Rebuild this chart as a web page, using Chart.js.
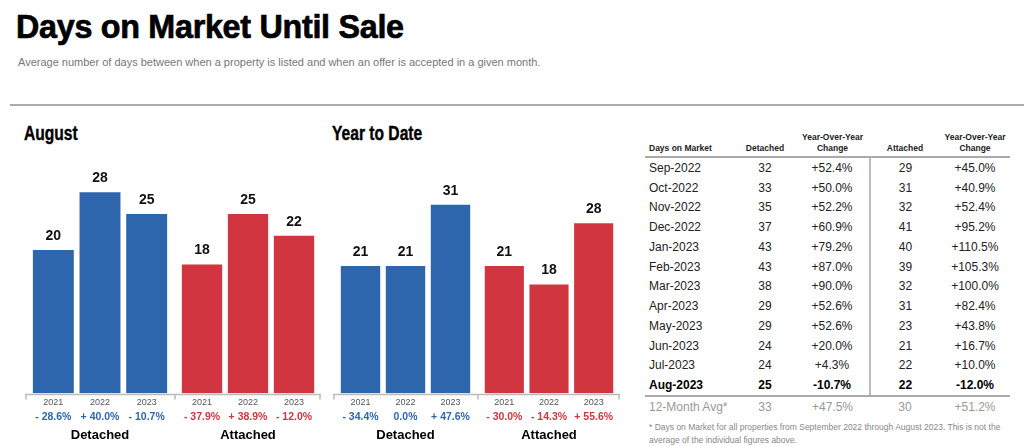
<!DOCTYPE html>
<html>
<head>
<meta charset="utf-8">
<script src="https://cdn.jsdelivr.net/npm/chart.js@4.4.0/dist/chart.umd.min.js"></script>
<style>
  body { margin: 0; width: 1024px; height: 446px; background: #fff; position: relative; overflow: hidden;
         font-family: "Liberation Sans", Arial, sans-serif; color: #111; }
  .narrow { font-family: "Liberation Sans", Arial, sans-serif; font-weight: bold; transform-origin: 0 0; white-space: nowrap; }
  h1 { position: absolute; left: 16px; top: 7px; margin: 0; font-size: 34px; color: #000; transform: scaleX(0.95);
       letter-spacing: -0.3px; -webkit-text-stroke: 0.7px #000; }
  .sub { position: absolute; left: 18px; top: 56px; font-size: 11px; color: #777; }
  .rule { position: absolute; left: 10px; right: 0; top: 104px; height: 2px; background: #aaa; }
  .ptitle { position: absolute; top: 122px; font-size: 19.5px; color: #000; transform: scaleX(0.8); -webkit-text-stroke: 0.4px #000; }
  .box { position: absolute; top: 153px; height: 292px; }
  #tbl { position: absolute; left: 645px; top: 131px; width: 365px; border-collapse: collapse; table-layout: fixed; font-size: 12px; }
  #tbl th { font-size: 8.5px; font-weight: bold; color: #222; text-align: center; vertical-align: bottom; height: 23px; padding: 0 0 2px 0;
            border-bottom: 2px solid #aaa; line-height: 11px; }
  #tbl th:first-child { text-align: left; padding-left: 4px; }
  #tbl td { height: 19.75px; padding: 0; text-align: center; color: #222; }
  #tbl td:first-child { text-align: left; padding-left: 4px; }
  #tbl .sep { border-left: 2px solid #bbb; }
  #tbl tr.last td { font-weight: bold; color: #000; border-bottom: 2px solid #aaa; }
  #tbl tr.avg td { color: #999; height: 20px; }
  #tbl tr.avg .sep { border-left: none; }
  .note { position: absolute; left: 649px; top: 421px; width: 362px; font-size: 8.5px; line-height: 12.5px; color: #888; }
</style>
</head>
<body>
<h1 class="narrow">Days on Market Until Sale</h1>
<div class="sub">Average number of days between when a property is listed and when an offer is accepted in a given month.</div>
<div class="rule"></div>

<div class="ptitle narrow" style="left:24px">August</div>
<div class="ptitle narrow" style="left:332px">Year to Date</div>

<div class="box" style="left:25px;width:149px"><canvas id="augDet"></canvas></div>
<div class="box" style="left:174px;width:147px"><canvas id="augAtt"></canvas></div>
<div class="box" style="left:333px;width:144px"><canvas id="ytdDet"></canvas></div>
<div class="box" style="left:477px;width:143px"><canvas id="ytdAtt"></canvas></div>

<table id="tbl">
  <colgroup><col style="width:90px"><col style="width:60px"><col style="width:75px"><col style="width:70px"><col style="width:70px"></colgroup>
  <thead><tr><th>Days on Market</th><th>Detached</th><th>Year-Over-Year<br>Change</th><th>Attached</th><th>Year-Over-Year<br>Change</th></tr></thead>
  <tbody id="tbody"></tbody>
</table>
<div class="note">* Days on Market for all properties from September 2022 through August 2023. This is not the average of the individual figures above.</div>

<script>
// bar charts
const years = ['2021', '2022', '2023'];
const augDetached = [20, 28, 25];
const augAttached = [18, 25, 22];
const ytdDetached = [21, 21, 31];
const ytdAttached = [21, 18, 28];
const augDetachedChg = [-28.6, 40.0, -10.7];
const augAttachedChg = [-37.9, 38.9, -12.0];
const ytdDetachedChg = [-34.4, 0.0, 47.6];
const ytdAttachedChg = [-30.0, -14.3, 55.6];

// monthly table
const months = ['Sep-2022', 'Oct-2022', 'Nov-2022', 'Dec-2022', 'Jan-2023', 'Feb-2023', 'Mar-2023',
                'Apr-2023', 'May-2023', 'Jun-2023', 'Jul-2023', 'Aug-2023'];
const monthDetached = [32, 33, 35, 37, 43, 43, 38, 29, 29, 24, 24, 25];
const monthDetachedChg = [52.4, 50.0, 52.2, 60.9, 79.2, 87.0, 90.0, 52.6, 52.6, 20.0, 4.3, -10.7];
const monthAttached = [29, 31, 32, 41, 40, 39, 32, 31, 23, 21, 22, 22];
const monthAttachedChg = [45.0, 40.9, 52.4, 95.2, 110.5, 105.3, 100.0, 82.4, 43.8, 16.7, 10.0, -12.0];
const avgRow = ['12-Month Avg*', 33, 47.5, 30, 51.2];

const BLUE = '#2e66ae';
const RED = '#d1353f';

function pct(v, spaced) {
  const s = spaced ? ' ' : '';
  if (v > 0) return '+' + s + v.toFixed(1) + '%';
  if (v < 0) return '-' + s + Math.abs(v).toFixed(1) + '%';
  return v.toFixed(1) + '%';
}

// value labels over the bars, change under the years, and the base line
const barExtras = {
  id: 'barExtras',
  afterDatasetsDraw(chart, args, opts) {
    const ctx = chart.ctx;
    const area = chart.chartArea;
    const xs = chart.scales.x;
    ctx.save();
    ctx.textAlign = 'center';
    ctx.font = 'bold 14px "Liberation Sans", Arial';
    ctx.fillStyle = '#111';
    ctx.textBaseline = 'bottom';
    chart.getDatasetMeta(0).data.forEach((bar, i) => {
      ctx.fillText(chart.data.datasets[0].data[i], bar.x, bar.y - 6);
    });
    ctx.font = 'bold 10.5px "Liberation Sans", Arial';
    ctx.fillStyle = opts.color;
    ctx.textBaseline = 'middle';
    opts.changes.forEach((c, i) => {
      ctx.fillText(pct(c, true), xs.getPixelForValue(i), area.bottom + 24);
    });
    ctx.strokeStyle = '#bbb';
    ctx.lineWidth = 1.5;
    ctx.beginPath();
    ctx.moveTo(0, area.bottom + 1);
    ctx.lineTo(chart.width, area.bottom + 1);
    if (opts.leftTick) { ctx.moveTo(1, area.bottom + 1); ctx.lineTo(1, area.bottom + 6); }
    if (opts.rightTick) { ctx.moveTo(chart.width - 1, area.bottom + 1); ctx.lineTo(chart.width - 1, area.bottom + 6); }
    ctx.stroke();
    ctx.restore();
  }
};

function makeChart(id, values, changes, color, group, yMax, rightTick) {
  new Chart(document.getElementById(id), {
    type: 'bar',
    data: {
      labels: years,
      datasets: [{
        data: values,
        backgroundColor: color,
        borderColor: 'rgba(255,255,255,0.35)',
        borderWidth: 1,
        categoryPercentage: 1,
        barPercentage: 0.92
      }]
    },
    options: {
      responsive: true,
      maintainAspectRatio: false,
      animation: false,
      layout: { padding: { top: 0, bottom: 2, left: 5, right: 4 } },
      scales: {
        x: {
          grid: { display: false, drawTicks: false },
          border: { display: false },
          ticks: { color: '#555', font: { size: 9, family: '"Liberation Sans", Arial' }, padding: 4 },
          title: { display: true, text: group, color: '#000', font: { size: 13, weight: 'bold', family: '"Liberation Sans", Arial' }, padding: { top: 15, bottom: 0 } }
        },
        y: { display: false, min: 0, max: yMax }
      },
      plugins: {
        legend: { display: false },
        tooltip: { enabled: false },
        barExtras: { changes: changes, color: color, leftTick: true, rightTick: rightTick }
      }
    },
    plugins: [barExtras]
  });
}

makeChart('augDet', augDetached, augDetachedChg, BLUE, 'Detached', 33.3, false);
makeChart('augAtt', augAttached, augAttachedChg, RED, 'Attached', 33.3, true);
makeChart('ytdDet', ytdDetached, ytdDetachedChg, BLUE, 'Detached', 39.3, false);
makeChart('ytdAtt', ytdAttached, ytdAttachedChg, RED, 'Attached', 39.3, true);

// table rows
const tbody = document.getElementById('tbody');
months.forEach((m, i) => {
  const tr = document.createElement('tr');
  if (i === months.length - 1) tr.className = 'last';
  tr.innerHTML = `<td>${m}</td><td>${monthDetached[i]}</td><td>${pct(monthDetachedChg[i])}</td>` +
                 `<td class="sep">${monthAttached[i]}</td><td>${pct(monthAttachedChg[i])}</td>`;
  tbody.appendChild(tr);
});
const avg = document.createElement('tr');
avg.className = 'avg';
avg.innerHTML = `<td>${avgRow[0]}</td><td>${avgRow[1]}</td><td>${pct(avgRow[2])}</td>` +
                `<td class="sep">${avgRow[3]}</td><td>${pct(avgRow[4])}</td>`;
tbody.appendChild(avg);
</script>
</body>
</html>
